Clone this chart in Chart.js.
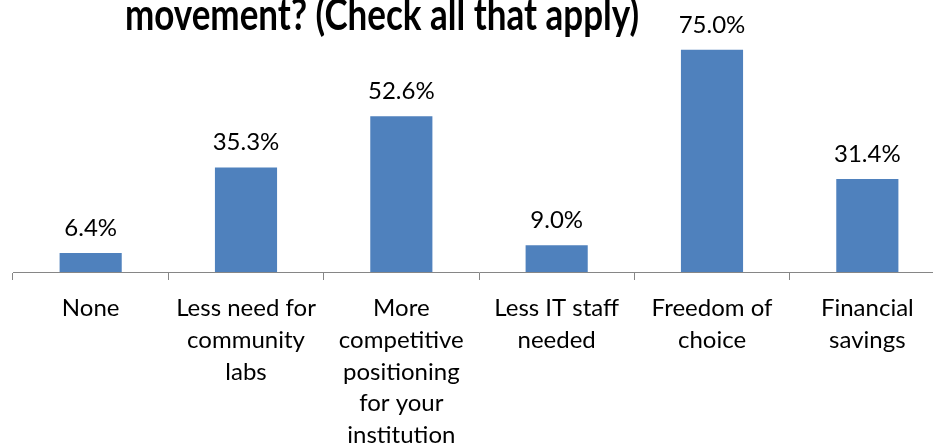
<!DOCTYPE html>
<html>
<head>
<meta charset="utf-8">
<script src="https://cdn.jsdelivr.net/npm/chart.js@4/dist/chart.umd.min.js"></script>
<style>
  html, body { margin: 0; padding: 0; background: #fff; }
  .frame { width: 933px; height: 444px; overflow: hidden; position: relative; }
  #benefits { position: absolute; left: 0; top: 0; }
</style>
</head>
<body>
<div class="frame">
  <canvas id="benefits" width="960" height="452"></canvas>
</div>
<script>
//----------------------
// Survey data
//----------------------

const categories = [
    ['None'],
    ['Less need for', 'community', 'labs'],
    ['More', 'competitive', 'positioning', 'for your', 'institution'],
    ['Less IT staff', 'needed'],
    ['Freedom of', 'choice'],
    ['Financial', 'savings']
];
const shares = [6.4, 35.3, 52.6, 9.0, 75.0, 31.4];
const titleText = 'movement? (Check all that apply)';

const barBlue = '#4f81bd';
const axisGrey = '#868686';

//----------------------
// Plugins: title line and value labels
//----------------------

const titleLine = {
    id: 'titleLine',
    afterDraw(chart) {
        const ctx = chart.ctx;
        ctx.save();
        // narrow, tall bold face: stretch Lato bold a little upwards from the baseline
        ctx.translate(382, 30);
        ctx.scale(1, 1.25);
        ctx.font = 'bold 35px Lato';
        ctx.fillStyle = '#000';
        ctx.textAlign = 'center';
        ctx.textBaseline = 'alphabetic';
        ctx.fillText(titleText, 0, 0);
        ctx.restore();
    }
};

const valueLabels = {
    id: 'valueLabels',
    afterDatasetsDraw(chart) {
        const ctx = chart.ctx;
        const meta = chart.getDatasetMeta(0);
        ctx.save();
        ctx.font = '24px Lato';
        ctx.fillStyle = '#000';
        ctx.textAlign = 'center';
        ctx.textBaseline = 'middle';
        meta.data.forEach((bar, i) => {
            ctx.fillText(shares[i].toFixed(1) + '%', bar.x, bar.y - 25);
        });
        ctx.restore();
    }
};

//----------------------
// Bar chart
//----------------------

const ctx = document.getElementById('benefits').getContext('2d');
const chart = new Chart(ctx, {
    type: 'bar',
    data: {
        labels: categories,
        datasets: [{
            data: shares,
            backgroundColor: barBlue,
            borderWidth: 0,
            categoryPercentage: 1,
            barPercentage: 0.4
        }]
    },
    options: {
        responsive: false,
        animation: false,
        devicePixelRatio: 1,
        layout: { padding: { left: 13, right: 15, top: 35, bottom: 0 } },
        plugins: {
            legend: { display: false },
            title: { display: false },
            tooltip: { enabled: false }
        },
        scales: {
            y: {
                display: false,
                min: 0,
                max: 80
            },
            x: {
                grid: {
                    offset: true,
                    drawOnChartArea: false,
                    drawTicks: true,
                    tickLength: 8,
                    color: axisGrey
                },
                border: { color: axisGrey, width: 1 },
                ticks: {
                    color: '#000',
                    font: { family: 'Lato', size: 24, lineHeight: 1.33 },
                    padding: 12,
                    maxRotation: 0,
                    autoSkip: false
                },
                afterFit: (scale) => { scale.height = 180; }
            }
        }
    },
    plugins: [titleLine, valueLabels]
});
</script>
</body>
</html>
